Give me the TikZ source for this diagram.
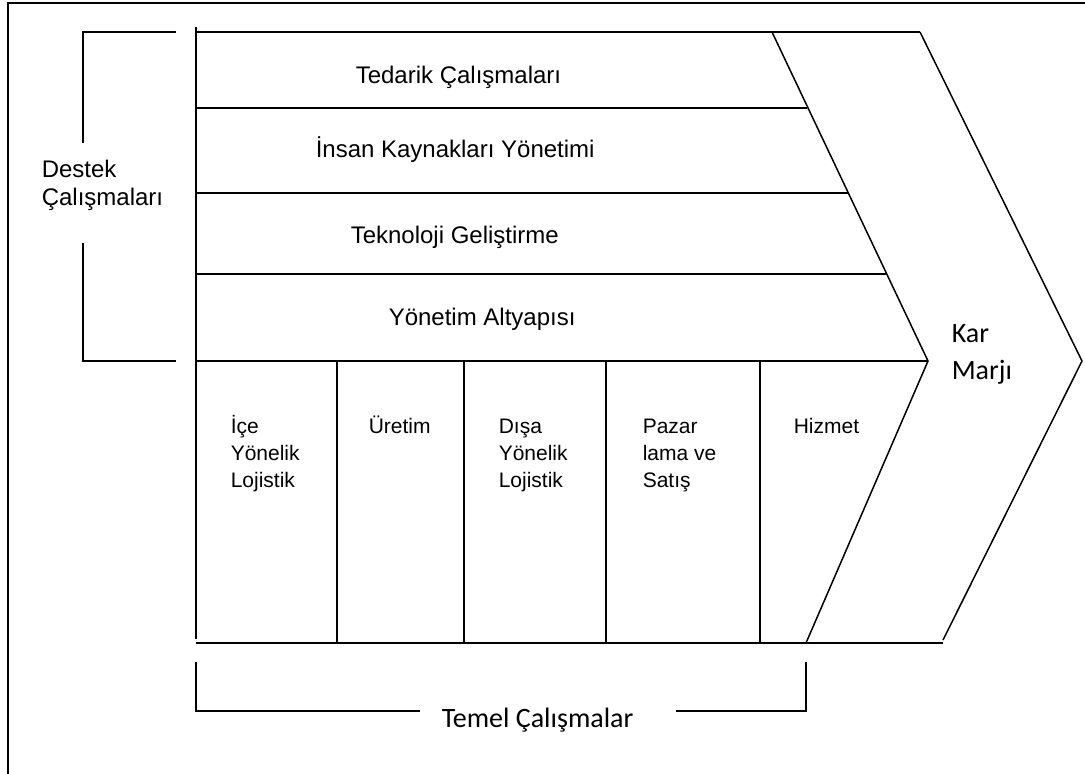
\documentclass[tikz,border=0pt]{standalone}
\usepackage{fontspec}
\setmainfont{Liberation Sans}
\newfontfamily\carlito{Carlito}
\begin{document}
\begin{tikzpicture}[x=1pt,y=-1pt,line width=1.5pt,line cap=butt,
  rowlabel/.style={anchor=base west,inner sep=0pt,font=\fontsize{24}{28}\selectfont},
  collabel/.style={anchor=north west,inner sep=0pt,align=left,font=\fontsize{21}{27}\selectfont},
  sidelabel/.style={anchor=north west,inner sep=0pt,align=left,font=\fontsize{24}{28}\selectfont},
  biglabel/.style={inner sep=0pt,align=left,font=\carlito\fontsize{28}{37}\selectfont},
  frameline/.style={line width=2pt}]
\useasboundingbox (0,0) rectangle (1085,774);

% page frame
\draw[frameline] (8,774) -- (8,3) -- (1085,3);

% bracket of the support activities
\draw (176,32) -- (83,32) -- (83,143);
\draw (83,243) -- (83,361) -- (176,361);
\node[sidelabel] (destek) at (41,157.4) {\strut Destek\\Çalışmaları};

% chevron corners
\coordinate (tl) at (196,32);
\coordinate (innertop) at (772,32);
\coordinate (innertip) at (928,361);
\coordinate (innerbot) at (806,643);
\coordinate (outertop) at (920,32);
\coordinate (outertip) at (1082,361);
\coordinate (outerbot) at (943,640);

% main value chain outline
\draw (196,27) -- (196,639);
\draw (tl) -- (outertop);
\draw (innertop) -- (innertip) -- (innerbot);
\draw (outertop) -- (outertip) -- (outerbot);
\draw (196,643) -- (943,643);

% support activity rows
\draw (196,108) -- (807,108);
\draw (196,193) -- (848,193);
\draw (196,274) -- (886,274);
\draw (196,361) -- (innertip);

\node[rowlabel] (tedarik) at (355,83) {Tedarik Çalışmaları};
\node[rowlabel] (insan) at (315,157) {İnsan Kaynakları Yönetimi};
\node[rowlabel] (tekno) at (350,243) {Teknoloji Geliştirme};
\node[rowlabel] (altyapi) at (388,325) {Yönetim Altyapısı};

% primary activity columns
\foreach \cx in {337,464,606,760}
  \draw (\cx,361) -- (\cx,643);

\node[collabel] (ice) at (230,414.1) {\strut İçe\\Yönelik\\Lojistik};
\node[collabel] (uretim) at (368,414.1) {\strut Üretim};
\node[collabel] (disa) at (498,414.1) {\strut Dışa\\Yönelik\\Lojistik};
\node[collabel] (pazar) at (642,414.1) {\strut Pazar\\lama ve\\Satış};
\node[collabel] (hizmet) at (793,414.1) {\strut Hizmet};

% margin label
\node[biglabel,anchor=north west] (kar) at (951,316.1) {\strut Kar\\Marjı};

% bracket of the primary activities
\node[biglabel,anchor=base west] (temel) at (441,727) {Temel Çalışmalar};
\draw (196,662) -- (196,711) -- (420,711);
\draw (676,711) -- (806,711) -- (806,662);
\end{tikzpicture}
\end{document}
